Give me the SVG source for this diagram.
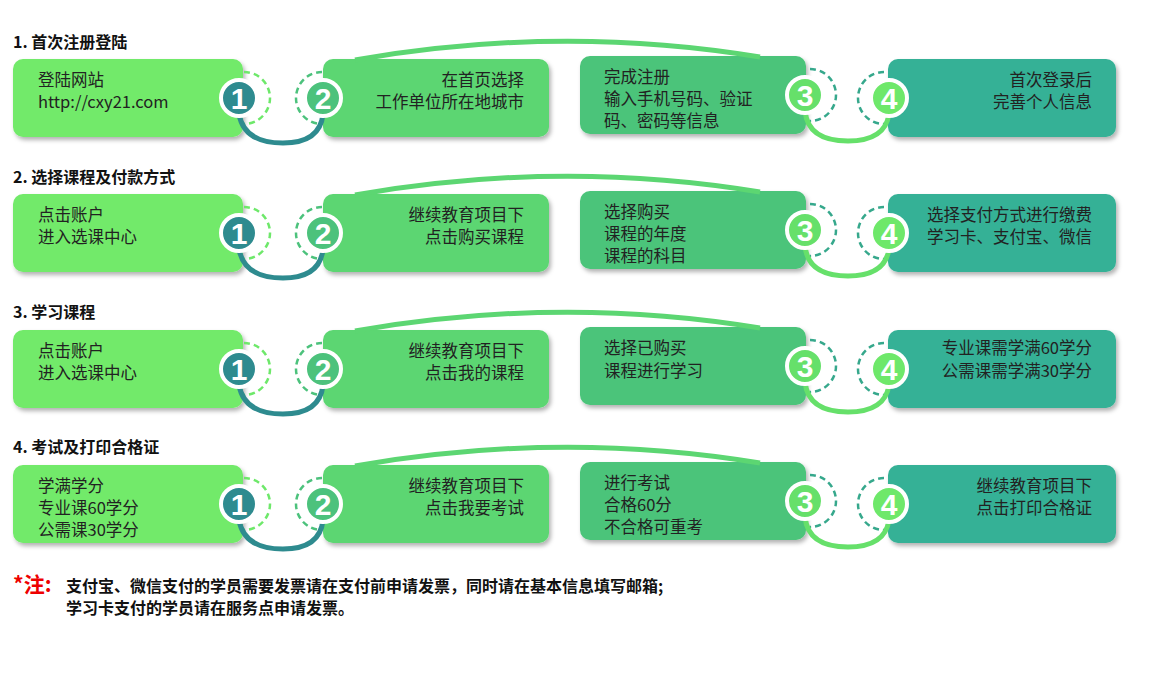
<svg xmlns="http://www.w3.org/2000/svg" width="1170" height="700" viewBox="0 0 1170 700">
<defs>
<style>
text{font-family:"Noto Sans CJK SC","Liberation Sans",sans-serif;fill:#222}
.t{font-size:16px;font-weight:bold;fill:#111}
.b{font-size:16.5px}
.n{font-size:30px;font-weight:bold;fill:#fff;text-anchor:middle;font-family:"Liberation Sans",sans-serif}
.r{text-anchor:end}
.dash{fill:none;stroke-width:2.5;stroke-dasharray:6 4}
</style>
<filter id="sh" x="-10%" y="-10%" width="125%" height="130%"><feDropShadow dx="2" dy="3" stdDeviation="2" flood-color="#000" flood-opacity="0.3"/></filter>
<g id="row">
<rect x="13" y="0" width="230" height="78" rx="10" fill="#72ea6b" filter="url(#sh)"/>
<rect x="323" y="0" width="226" height="78" rx="10" fill="#5cd672" filter="url(#sh)"/>
<rect x="580" y="-3" width="226" height="78" rx="10" fill="#4cc47a" filter="url(#sh)"/>
<rect x="888" y="0" width="228" height="78" rx="10" fill="#36b196" filter="url(#sh)"/>
<path d="M244,13 A26,26 0 0 1 244,65" class="dash" stroke="#6ee86a"/>
<path d="M322,13 A26,26 0 0 0 322,65" class="dash" stroke="#4cc27c"/>
<path d="M810,10 A26,26 0 0 1 810,62" class="dash" stroke="#36a88c"/>
<path d="M884,13 A26,26 0 0 0 884,65" class="dash" stroke="#36a88c"/>
<path d="M355,1 Q560,-35 760,-2" fill="none" stroke="#5cd672" stroke-width="5"/>
<path d="M239,55 Q244,84 283,84 Q320,84 323,55" fill="none" stroke="#2e8b8f" stroke-width="5"/>
<path d="M805,52 Q808,82 848,82 Q885,82 889,55" fill="none" stroke="#66e06a" stroke-width="5"/>
<circle cx="239" cy="39" r="18" fill="#2e8b8f" stroke="#fff" stroke-width="4"/>
<circle cx="323" cy="39" r="18" fill="#4cc27c" stroke="#fff" stroke-width="4"/>
<circle cx="805" cy="36" r="18" fill="#66e06a" stroke="#fff" stroke-width="4"/>
<circle cx="889" cy="39" r="18" fill="#6ee86a" stroke="#fff" stroke-width="4"/>
</g>
</defs>
<rect width="1170" height="700" fill="#fff"/>
<g id="connectors">
<use href="#row" y="59"/>
<use href="#row" y="194"/>
<use href="#row" y="330"/>
<use href="#row" y="465"/>
</g>
<g id="nums">
<text class="n" x="239" y="109">1</text><text class="n" x="323" y="109">2</text><text class="n" x="805" y="106">3</text><text class="n" x="889" y="109">4</text>
<text class="n" x="239" y="244">1</text><text class="n" x="323" y="244">2</text><text class="n" x="805" y="241">3</text><text class="n" x="889" y="244">4</text>
<text class="n" x="239" y="380">1</text><text class="n" x="323" y="380">2</text><text class="n" x="805" y="377">3</text><text class="n" x="889" y="380">4</text>
<text class="n" x="239" y="515">1</text><text class="n" x="323" y="515">2</text><text class="n" x="805" y="512">3</text><text class="n" x="889" y="515">4</text>
</g>
<g id="row1">
<text class="t" x="13" y="48">1. 首次注册登陆</text>
<text class="b" x="38" y="86">登陆网站</text><text class="b" x="38" y="108">http://cxy21.com</text>
<text class="b r" x="524" y="86">在首页选择</text><text class="b r" x="524" y="108">工作单位所在地城市</text>
<text class="b" x="604" y="83">完成注册</text><text class="b" x="604" y="105">输入手机号码、验证</text><text class="b" x="604" y="127">码、密码等信息</text>
<text class="b r" x="1092" y="86">首次登录后</text><text class="b r" x="1092" y="108">完善个人信息</text>
</g>
<g id="row2">
<text class="t" x="13" y="183">2. 选择课程及付款方式</text>
<text class="b" x="38" y="221">点击账户</text><text class="b" x="38" y="243">进入选课中心</text>
<text class="b r" x="524" y="221">继续教育项目下</text><text class="b r" x="524" y="243">点击购买课程</text>
<text class="b" x="604" y="218">选择购买</text><text class="b" x="604" y="240">课程的年度</text><text class="b" x="604" y="262">课程的科目</text>
<text class="b r" x="1092" y="221">选择支付方式进行缴费</text><text class="b r" x="1092" y="243">学习卡、支付宝、微信</text>
</g>
<g id="row3">
<text class="t" x="13" y="318">3. 学习课程</text>
<text class="b" x="38" y="357">点击账户</text><text class="b" x="38" y="379">进入选课中心</text>
<text class="b r" x="524" y="357">继续教育项目下</text><text class="b r" x="524" y="379">点击我的课程</text>
<text class="b" x="604" y="354">选择已购买</text><text class="b" x="604" y="377">课程进行学习</text>
<text class="b r" x="1092" y="354">专业课需学满60学分</text><text class="b r" x="1092" y="377">公需课需学满30学分</text>
</g>
<g id="row4">
<text class="t" x="13" y="453">4. 考试及打印合格证</text>
<text class="b" x="38" y="492">学满学分</text><text class="b" x="38" y="514">专业课60学分</text><text class="b" x="38" y="536">公需课30学分</text>
<text class="b r" x="524" y="492">继续教育项目下</text><text class="b r" x="524" y="514">点击我要考试</text>
<text class="b" x="604" y="489">进行考试</text><text class="b" x="604" y="511">合格60分</text><text class="b" x="604" y="533">不合格可重考</text>
<text class="b r" x="1092" y="492">继续教育项目下</text><text class="b r" x="1092" y="514">点击打印合格证</text>
</g>
<g id="note">
<text x="13" y="592" style="font-size:21px;font-weight:bold;fill:#e00">*注:</text>
<text class="t" x="66" y="592">支付宝、微信支付的学员需要发票请在支付前申请发票，同时请在基本信息填写邮箱;</text>
<text class="t" x="66" y="614">学习卡支付的学员请在服务点申请发票。</text>
</g>
</svg>
